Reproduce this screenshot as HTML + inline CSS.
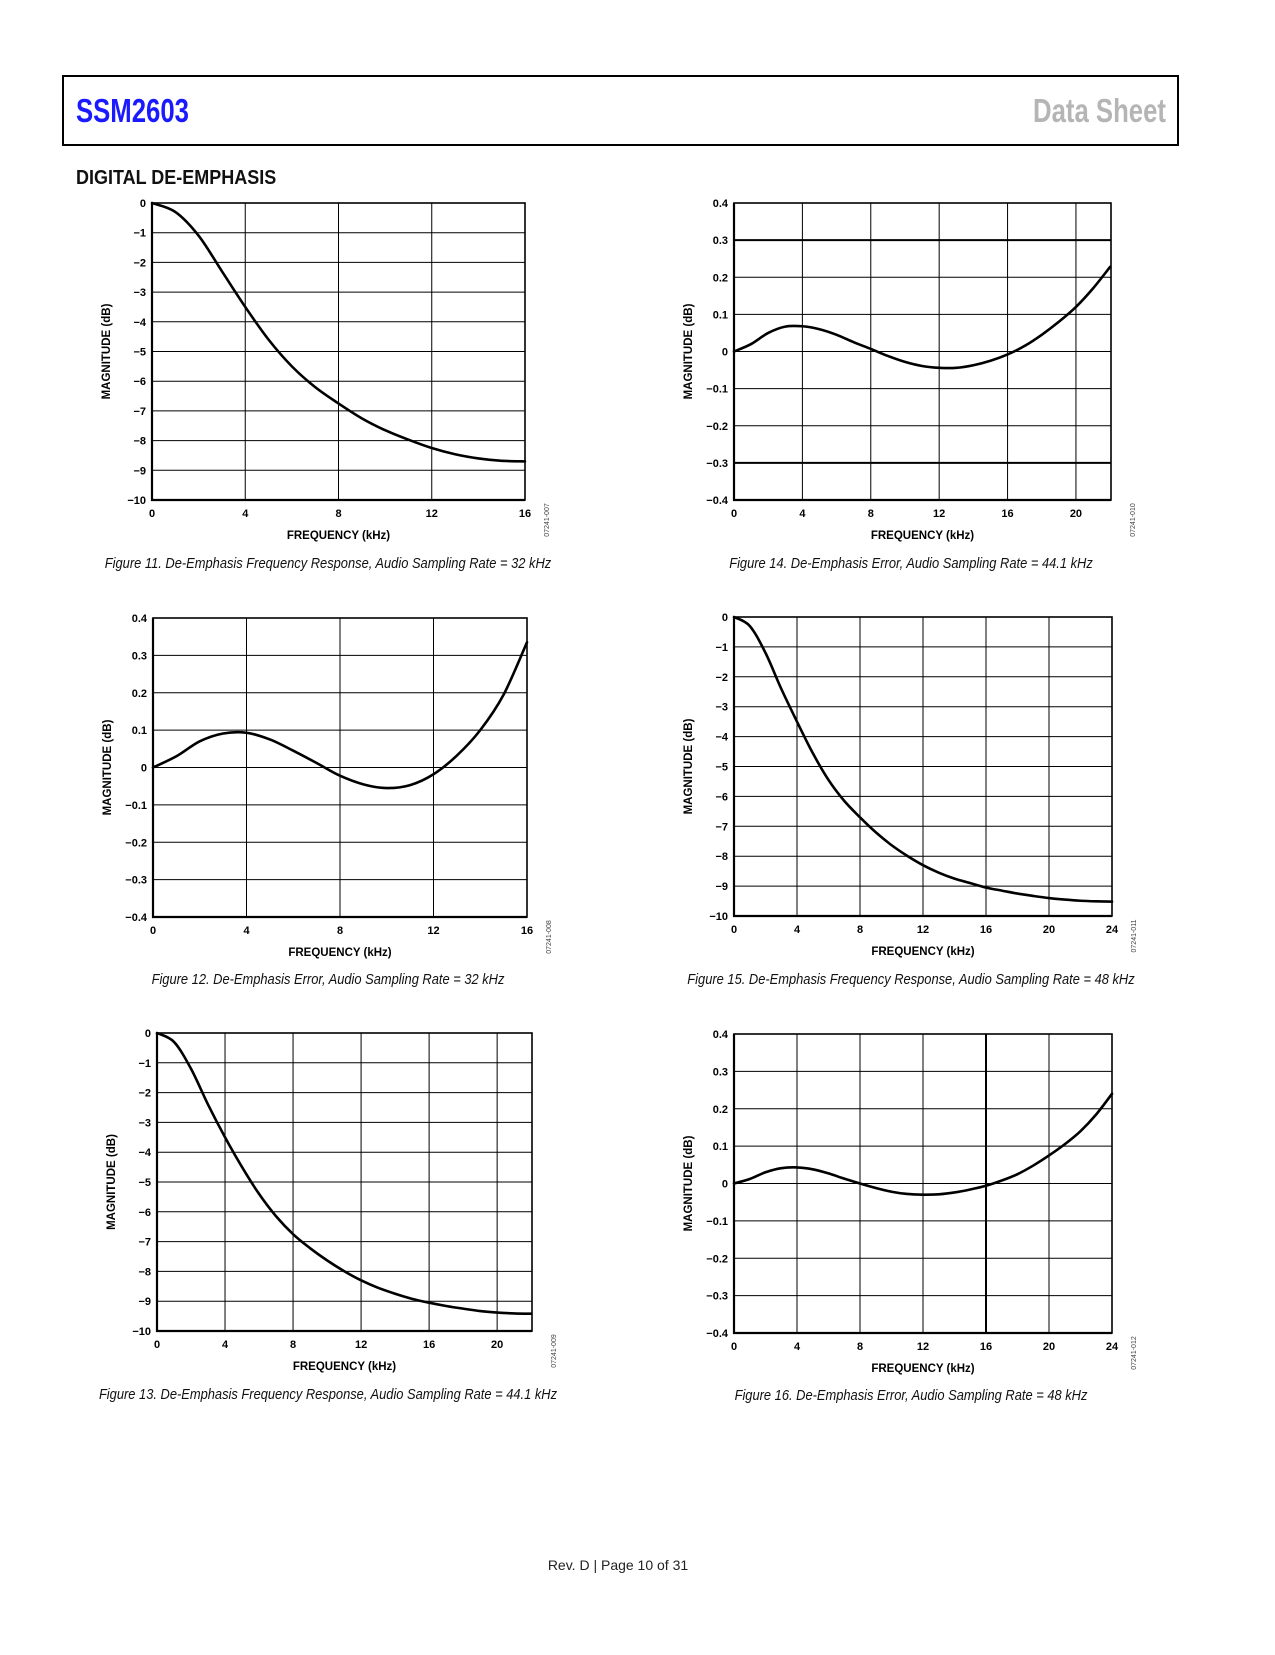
<!DOCTYPE html>
<html><head><meta charset="utf-8">
<style>
html,body{margin:0;padding:0;background:#fff;}
body{width:1275px;height:1650px;overflow:hidden;}
svg text{font-family:"Liberation Sans",Arial,sans-serif;}
</style></head>
<body>
<svg id="page" width="1275" height="1650" viewBox="0 0 1275 1650" xmlns="http://www.w3.org/2000/svg">
<rect x="63" y="76" width="1115" height="69" fill="none" stroke="#000" stroke-width="2"/>
<text x="76" y="122" font-size="33" font-weight="bold" fill="#1a1aff" transform="translate(76 122) scale(0.78 1) translate(-76 -122)">SSM2603</text>
<text x="1166" y="122" font-size="33" font-weight="bold" fill="#b5b5b5" text-anchor="end" transform="translate(1166 122) scale(0.78 1) translate(-1166 -122)">Data Sheet</text>
<text x="76" y="184" font-size="20" font-weight="bold" fill="#111" transform="translate(76 184) scale(0.9 1) translate(-76 -184)">DIGITAL DE-EMPHASIS</text>
<g id="charts"></g>
<text x="618" y="1570" font-size="14" fill="#222" text-anchor="middle">Rev. D | Page 10 of 31</text>
</svg>
<script>
// Chart data (kHz -> dB)
const freq32 = [0,1,2,3,4,5,6,7,8,9,10,11,12,13,14,15,16];
const resp32 = [0,-0.3,-1.1,-2.3,-3.5,-4.6,-5.5,-6.2,-6.75,-7.25,-7.65,-7.97,-8.25,-8.46,-8.6,-8.68,-8.7];
const freq44 = [0,1,2,3,4,5,6,7,8,9,10,11,12,13,14,15,16,17,18,19,20,21,22];
const resp44 = [0,-0.3,-1.2,-2.4,-3.5,-4.5,-5.4,-6.15,-6.75,-7.22,-7.63,-7.99,-8.3,-8.55,-8.75,-8.92,-9.05,-9.16,-9.25,-9.33,-9.38,-9.41,-9.42];
const freq48 = [0,1,2,3,4,5,6,7,8,9,10,11,12,13,14,15,16,17,18,19,20,21,22,23,24];
const resp48 = [0,-0.3,-1.2,-2.4,-3.5,-4.55,-5.45,-6.15,-6.7,-7.2,-7.63,-7.99,-8.3,-8.55,-8.75,-8.9,-9.05,-9.15,-9.25,-9.33,-9.4,-9.45,-9.49,-9.51,-9.52];
const errFreq32 = [0,1,2,3,4,5,6,7,8,9,10,11,12,13,14,15,16];
const err32 = [0,0.03,0.07,0.091,0.093,0.075,0.045,0.012,-0.022,-0.045,-0.055,-0.047,-0.018,0.032,0.1,0.195,0.335];
const err44 = [0,0.02,0.05,0.067,0.068,0.06,0.045,0.025,0.007,-0.012,-0.028,-0.039,-0.044,-0.044,-0.037,-0.025,-0.008,0.015,0.045,0.08,0.12,0.17,0.228];
const err48 = [0,0.012,0.03,0.041,0.043,0.038,0.027,0.013,0,-0.012,-0.022,-0.028,-0.03,-0.029,-0.024,-0.016,-0.006,0.008,0.025,0.048,0.075,0.105,0.14,0.185,0.24];
const xTicks16 = [0,4,8,12,16];
const xTicks22 = [0,4,8,12,16,20];
const xTicks24 = [0,4,8,12,16,20,24];
const yTicksResp = [0,-1,-2,-3,-4,-5,-6,-7,-8,-9,-10];
const yTicksErr = [0.4,0.3,0.2,0.1,0,-0.1,-0.2,-0.3,-0.4];

const NS = "http://www.w3.org/2000/svg";
const root = document.getElementById('charts');
function mk(tag, attrs, parent){
  const e = document.createElementNS(NS, tag);
  for (const k in attrs) e.setAttribute(k, attrs[k]);
  (parent||root).appendChild(e);
  return e;
}
function fmt(v){
  if (v === 0) return "0";
  let s = Math.abs(v).toString();
  if (Math.abs(v) < 1 && s[0] !== '0') s = '0' + s;
  return (v < 0 ? "\u2212" : "") + s;
}
function smoothPath(pts){
  let d = "M" + pts[0][0].toFixed(2) + "," + pts[0][1].toFixed(2);
  for (let i = 0; i < pts.length - 1; i++){
    const p0 = pts[Math.max(0,i-1)], p1 = pts[i], p2 = pts[i+1], p3 = pts[Math.min(pts.length-1,i+2)];
    const c1x = p1[0] + (p2[0]-p0[0])/6, c1y = p1[1] + (p2[1]-p0[1])/6;
    const c2x = p2[0] - (p3[0]-p1[0])/6, c2y = p2[1] - (p3[1]-p1[1])/6;
    d += " C" + c1x.toFixed(2)+","+c1y.toFixed(2)+" "+c2x.toFixed(2)+","+c2y.toFixed(2)+" "+p2[0].toFixed(2)+","+p2[1].toFixed(2);
  }
  return d;
}
function chart(c){
  const g = mk('g', {});
  
  
  const sx = v => c.L + (v - c.xmin)/(c.xmax - c.xmin)*(c.R - c.L);
  const sy = v => c.B - (v - c.ymin)/(c.ymax - c.ymin)*(c.B - c.T);
  c.yTicks.forEach(t => {
    const y = sy(t);
    const thick = c.thickY && c.thickY.indexOf(t) >= 0;
    const ln = mk('line', {x1:c.L, x2:c.R, y1:y, y2:y, stroke:'#000', 'stroke-width': thick ? 2 : 1}, g);
    
    
    const tx = mk('text', {x:c.L-6, y:y+4, 'font-size':11, 'font-weight':'bold', 'text-anchor':'end', fill:'#000'}, g);
    
    
    tx.textContent = fmt(t);
  });
  c.xTicks.forEach(t => {
    const x = sx(t);
    const thick = c.thickX && c.thickX.indexOf(t) >= 0;
    const ln = mk('line', {x1:x, x2:x, y1:c.T, y2:c.B, stroke:'#000', 'stroke-width': thick ? 2 : 1}, g);
    
    
    const tx = mk('text', {x:x, y:c.B+17, 'font-size':11, 'font-weight':'bold', 'text-anchor':'middle', fill:'#000'}, g);
    
    
    tx.textContent = fmt(t);
  });
  const fr = mk('rect', {x:c.L, y:c.T, width:c.R-c.L, height:c.B-c.T, fill:'none', stroke:'#000', 'stroke-width':1.6}, g);
  
  
  const ax = mk('path', {d:'M'+c.L+','+c.T+' L'+c.L+','+c.B+' L'+c.R+','+c.B, fill:'none', stroke:'#000', 'stroke-width':2.2}, g);
  
  
  const pts = c.xs.map((x,i) => [sx(x), sy(c.ys[i])]);
  const cv = mk('path', {d:smoothPath(pts), fill:'none', stroke:'#000', 'stroke-width':2.6, 'stroke-linejoin':'round', 'stroke-linecap':'round'}, g);
  
  
  const xt = mk('text', {x:(c.L+c.R)/2, y:c.B+39, 'font-size':11.5, 'font-weight':'bold', 'text-anchor':'middle', fill:'#000'}, g);
  
  
  xt.textContent = 'FREQUENCY (kHz)';
  const yx = c.L-42, yy = (c.T+c.B)/2;
  const yt = mk('text', {x:yx, y:yy, 'font-size':11.5, 'font-weight':'bold', 'text-anchor':'middle', fill:'#000', transform:'rotate(-90 '+yx+' '+yy+')'}, g);
  
  
  yt.textContent = 'MAGNITUDE (dB)';
  const cx = c.R+24, cy = c.B+20;
  const cd = mk('text', {x:cx, y:cy, 'font-size':7, 'text-anchor':'middle', fill:'#444', transform:'rotate(-90 '+cx+' '+cy+')'}, g);
  
  
  cd.textContent = c.code;
  const cap = mk('text', {x:c.capX, y:c.capY, 'font-size':15, 'font-style':'italic', 'text-anchor':'middle', fill:'#111', transform:'translate('+c.capX+' '+c.capY+') scale(0.86 1) translate('+(-c.capX)+' '+(-c.capY)+')'}, g);
  
  
  cap.textContent = c.caption;
}
chart({name:'figure-11-chart', L:152, T:203, R:525, B:500, xmin:0, xmax:16, ymin:-10, ymax:0, xTicks:xTicks16, yTicks:yTicksResp, xs:freq32, ys:resp32, code:'07241-007', caption:'Figure 11. De-Emphasis Frequency Response, Audio Sampling Rate = 32 kHz', capX:328, capY:568});
chart({name:'figure-12-chart', L:153, T:618, R:527, B:917, xmin:0, xmax:16, ymin:-0.4, ymax:0.4, xTicks:xTicks16, yTicks:yTicksErr, xs:errFreq32, ys:err32, code:'07241-008', caption:'Figure 12. De-Emphasis Error, Audio Sampling Rate = 32 kHz', capX:328, capY:984});
chart({name:'figure-13-chart', L:157, T:1033, R:532, B:1331, xmin:0, xmax:22.05, ymin:-10, ymax:0, xTicks:xTicks22, yTicks:yTicksResp, xs:freq44, ys:resp44, code:'07241-009', caption:'Figure 13. De-Emphasis Frequency Response, Audio Sampling Rate = 44.1 kHz', capX:328, capY:1399});
chart({name:'figure-14-chart', L:734, T:203, R:1111, B:500, xmin:0, xmax:22.05, ymin:-0.4, ymax:0.4, xTicks:xTicks22, yTicks:yTicksErr, thickY:[0.3,-0.3], xs:freq44, ys:err44, code:'07241-010', caption:'Figure 14. De-Emphasis Error, Audio Sampling Rate = 44.1 kHz', capX:911, capY:568});
chart({name:'figure-15-chart', L:734, T:617, R:1112, B:916, xmin:0, xmax:24, ymin:-10, ymax:0, xTicks:xTicks24, yTicks:yTicksResp, xs:freq48, ys:resp48, code:'07241-011', caption:'Figure 15. De-Emphasis Frequency Response, Audio Sampling Rate = 48 kHz', capX:911, capY:984});
chart({name:'figure-16-chart', L:734, T:1034, R:1112, B:1333, xmin:0, xmax:24, ymin:-0.4, ymax:0.4, xTicks:xTicks24, yTicks:yTicksErr, thickX:[16], xs:freq48, ys:err48, code:'07241-012', caption:'Figure 16. De-Emphasis Error, Audio Sampling Rate = 48 kHz', capX:911, capY:1400});
</script>
</body></html>
